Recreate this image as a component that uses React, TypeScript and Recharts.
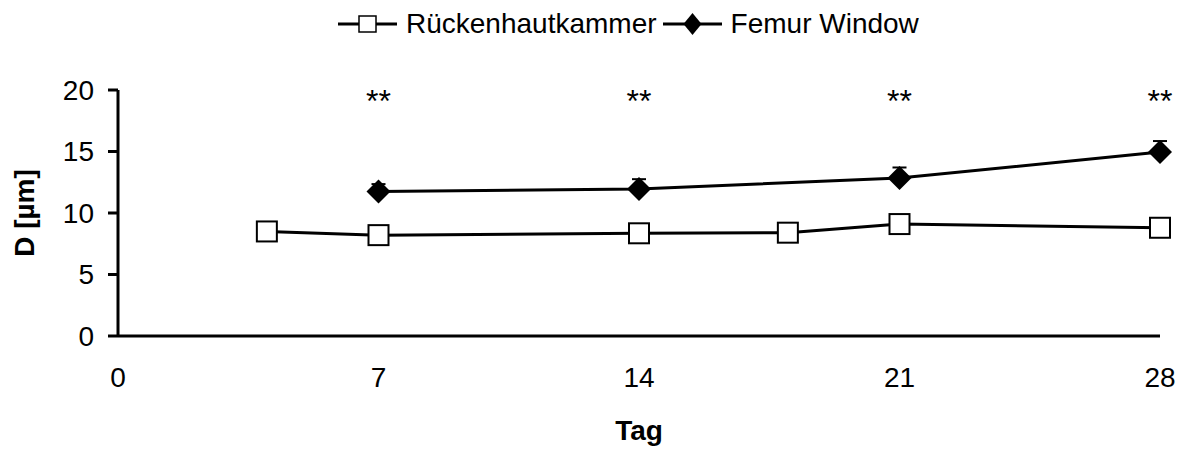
import { LineChart, Line, XAxis, YAxis, ErrorBar, LabelList } from 'recharts';

// Rückenhautkammer (open squares)
const rkDays = [4, 7, 14, 18, 21, 28];
const rkValues = [8.5, 8.2, 8.35, 8.4, 9.1, 8.8];

// Femur Window (filled diamonds) with upper SD
const fwDays = [7, 14, 21, 28];
const fwValues = [11.75, 11.95, 12.85, 14.95];
const fwErrors = [0.6, 0.8, 0.85, 0.9];

// significance marks
const starDays = [7, 14, 21, 28];
const starLabels = ['**', '**', '**', '**'];
const STAR_LEVEL = 19.6;

const xTicks = [0, 7, 14, 21, 28];
const yTicks = [0, 5, 10, 15, 20];

const allDays = Array.from(new Set([...rkDays, ...fwDays, ...starDays])).sort((a, b) => a - b);
const data = allDays.map((day) => {
  const ri = rkDays.indexOf(day);
  const fi = fwDays.indexOf(day);
  const si = starDays.indexOf(day);
  return {
    day,
    rk: ri >= 0 ? rkValues[ri] : null,
    fw: fi >= 0 ? fwValues[fi] : null,
    fwErr: fi >= 0 ? [0, fwErrors[fi]] : null,
    star: si >= 0 ? STAR_LEVEL : null,
    starLabel: si >= 0 ? starLabels[si] : '',
  };
});

const FONT = '"Liberation Sans", Arial, sans-serif';

const SquareDot = (props: any) => {
  const { cx, cy, value } = props;
  if (value == null || cx == null) return null;
  const s = 20;
  return <rect x={cx - s / 2} y={cy - s / 2} width={s} height={s} fill="#fff" stroke="#000" strokeWidth={2} />;
};

const DiamondDot = (props: any) => {
  const { cx, cy, value } = props;
  if (value == null || cx == null) return null;
  const r = 12;
  return <path d={`M${cx},${cy - r} L${cx + r},${cy} L${cx},${cy + r} L${cx - r},${cy} Z`} fill="#000" />;
};

const LegendIcon = ({ kind }: { kind: 'square' | 'diamond' }) => (
  <svg width={59} height={26} style={{ display: 'block' }}>
    <line x1={0} y1={13} x2={59} y2={13} stroke="#000" strokeWidth={3} />
    {kind === 'square' ? (
      <rect x={21} y={5} width={17} height={16} fill="#fff" stroke="#000" strokeWidth={1.5} />
    ) : (
      <path d="M29.5,2 L38.5,13 L29.5,24 L20.5,13 Z" fill="#000" />
    )}
  </svg>
);

const ChartLegend = () => (
  <div
    style={{
      position: 'absolute',
      top: 9,
      left: 338,
      display: 'flex',
      alignItems: 'center',
      fontFamily: FONT,
      fontSize: 28,
      lineHeight: '30px',
      color: '#000',
      whiteSpace: 'nowrap',
    }}
  >
    <LegendIcon kind="square" />
    <span style={{ marginLeft: 9, marginRight: 6 }}>Rückenhautkammer</span>
    <LegendIcon kind="diamond" />
    <span style={{ marginLeft: 9 }}>Femur Window</span>
  </div>
);

const StarLabel = (props: any) => {
  const { x, y, value } = props;
  if (!value) return null;
  return (
    <text x={x} y={y + 17} textAnchor="middle" fontFamily={FONT} fontSize={32} fill="#000">
      {value}
    </text>
  );
};

export default function App() {
  return (
    <div style={{ position: 'absolute', left: 0, top: 0, width: 1188, height: 450, background: '#fff' }}>
      <ChartLegend />
      <LineChart width={1188} height={450} data={data} margin={{ top: 90, right: 28, left: 0, bottom: 10 }}>
        <XAxis
          dataKey="day"
          type="number"
          domain={[0, 28]}
          ticks={xTicks}
          tickLine={false}
          axisLine={{ stroke: '#000', strokeWidth: 3 }}
          tick={{ fill: '#000', fontSize: 28, fontFamily: FONT }}
          tickMargin={25}
          height={104}
          label={{ value: 'Tag', position: 'insideBottom', offset: 0, fill: '#000', fontSize: 28, fontWeight: 'bold', fontFamily: FONT }}
        />
        <YAxis
          type="number"
          domain={[0, 20]}
          ticks={yTicks}
          width={118}
          tickSize={10}
          tickLine={{ stroke: '#000', strokeWidth: 3 }}
          axisLine={{ stroke: '#000', strokeWidth: 3 }}
          tick={{ fill: '#000', fontSize: 28, fontFamily: FONT }}
          tickMargin={14}
          label={{ value: 'D [µm]', angle: -90, position: 'insideLeft', offset: 24, fill: '#000', fontSize: 28, fontWeight: 'bold', fontFamily: FONT, style: { textAnchor: 'middle' } }}
        />
        <Line
          dataKey="rk"
          stroke="#000"
          strokeWidth={3}
          connectNulls
          dot={<SquareDot />}
          activeDot={false}
          isAnimationActive={false}
        />
        <Line
          dataKey="fw"
          stroke="#000"
          strokeWidth={3}
          connectNulls
          dot={<DiamondDot />}
          activeDot={false}
          isAnimationActive={false}
        >
          <ErrorBar dataKey="fwErr" direction="y" width={7} stroke="#000" strokeWidth={2} />
        </Line>
        <Line
          dataKey="star"
          stroke="none"
          dot={false}
          activeDot={false}
          isAnimationActive={false}
        >
          <LabelList dataKey="starLabel" content={<StarLabel />} />
        </Line>
      </LineChart>
    </div>
  );
}
